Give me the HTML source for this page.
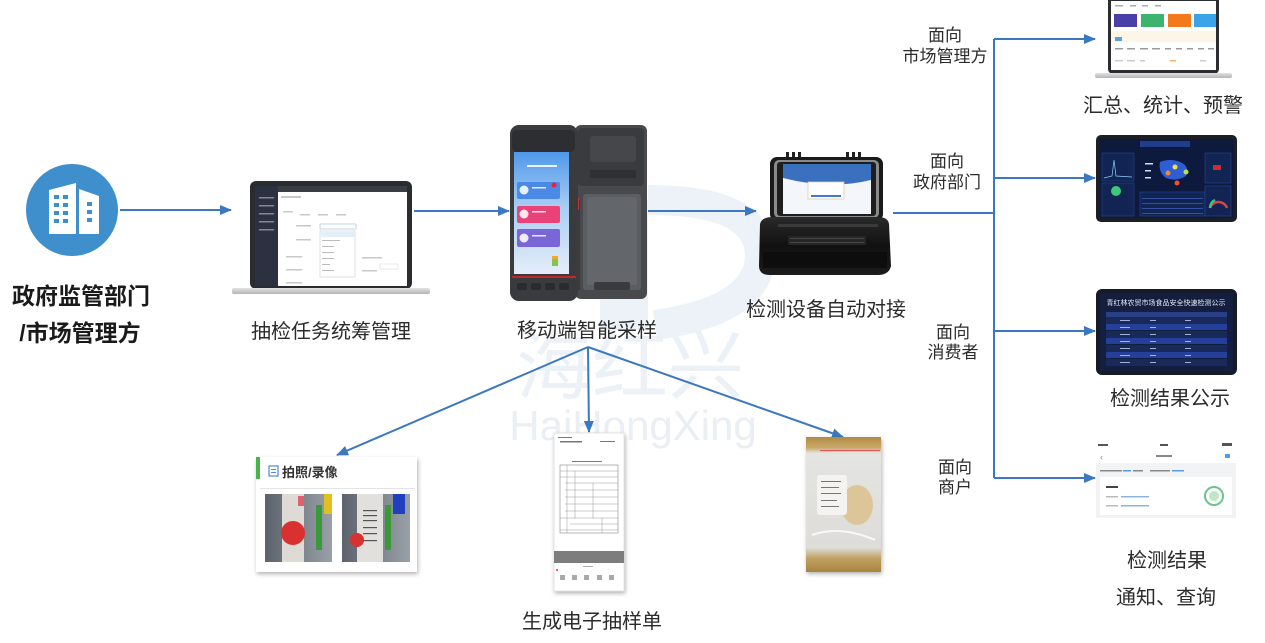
<!DOCTYPE html>
<html><head><meta charset="utf-8">
<style>
html,body{margin:0;padding:0;background:#fff;}
body{width:1265px;height:643px;overflow:hidden;position:relative;}
svg{position:absolute;left:0;top:0;}
text{font-family:"Liberation Sans","Noto Sans CJK SC",sans-serif;}
</style></head><body>
<svg width="1265" height="643" viewBox="0 0 1265 643" xmlns="http://www.w3.org/2000/svg">
<defs>
<marker id="ah" markerWidth="12" markerHeight="10" refX="11" refY="5" orient="auto" markerUnits="userSpaceOnUse"><path d="M0,0 L12,5 L0,10 z" fill="#3b78bf"/></marker>
<linearGradient id="scr" x1="0" y1="0" x2="0" y2="1"><stop offset="0" stop-color="#4f98ea"/><stop offset="0.45" stop-color="#a9cdf3"/><stop offset="1" stop-color="#e4eef9"/></linearGradient>
<linearGradient id="base" x1="0" y1="0" x2="0" y2="1"><stop offset="0" stop-color="#e2e2e2"/><stop offset="1" stop-color="#b5b5b5"/></linearGradient>
<linearGradient id="case" x1="0" y1="0" x2="0" y2="1"><stop offset="0" stop-color="#2a2a2a"/><stop offset="0.5" stop-color="#111"/><stop offset="1" stop-color="#1c1c1c"/></linearGradient>
<linearGradient id="bag" x1="0" y1="0" x2="0" y2="1"><stop offset="0" stop-color="#b08a45"/><stop offset="0.08" stop-color="#c9a968"/><stop offset="0.12" stop-color="#e4e4e2"/><stop offset="0.82" stop-color="#dddcd8"/><stop offset="0.9" stop-color="#c0a060"/><stop offset="1" stop-color="#a88440"/></linearGradient>
<linearGradient id="photo" x1="0" y1="0" x2="1" y2="0"><stop offset="0" stop-color="#5d636c"/><stop offset="1" stop-color="#9aa0a8"/></linearGradient>
<filter id="sh" x="-10%" y="-10%" width="130%" height="130%"><feDropShadow dx="1" dy="2" stdDeviation="2" flood-color="#000" flood-opacity="0.3"/></filter>
</defs>

<!-- watermark -->
<g>
<rect x="600" y="200" width="48" height="130" fill="#edf2f8"/>
<path d="M648,200 Q760,200 760,255 Q760,310 655,325" fill="none" stroke="#edf2f8" stroke-width="30"/>
<text x="630" y="393" font-size="76" fill="#ecf1f7" text-anchor="middle">海红兴</text>
<text x="633" y="440" font-size="42" fill="#e9eff5" text-anchor="middle">HaiHongXing</text>
</g>

<!-- building icon -->
<circle cx="72" cy="210" r="46" fill="#3e8fcc"/>
<path d="M49,190 L76,183 L76,234 L49,234 z" fill="#fff"/>
<path d="M79,189 L99,196 L99,234 L79,234 z" fill="#fff"/>
<g fill="#3e8fcc">
<rect x="54" y="195" width="5" height="4"/><rect x="63" y="195" width="5" height="4"/>
<rect x="54" y="203" width="5" height="4"/><rect x="63" y="203" width="5" height="4"/>
<rect x="54" y="211" width="5" height="4"/><rect x="63" y="211" width="5" height="4"/>
<rect x="54" y="219" width="5" height="4"/><rect x="63" y="219" width="5" height="4"/>
<rect x="87" y="202" width="5" height="4"/><rect x="87" y="210" width="5" height="4"/><rect x="87" y="218" width="5" height="4"/>
</g>
<text x="81" y="304" font-size="23" font-weight="bold" fill="#1a1a1a" text-anchor="middle">政府监管部门</text>
<text x="80" y="341" font-size="23" font-weight="bold" fill="#1a1a1a" text-anchor="middle">/市场管理方</text>

<!-- laptop 1 -->
<rect x="250" y="181" width="162" height="108" rx="6" fill="#2b2c2f"/>
<rect x="255" y="186" width="152" height="100" fill="#fff"/>
<rect x="255" y="186" width="152" height="6" fill="#3a3d44"/>
<rect x="255" y="186" width="23" height="100" fill="#2b3140"/>
<g fill="#c8c8c8">
<rect x="281" y="196" width="20" height="2"/><rect x="283" y="211" width="10" height="1.5"/>
<rect x="300" y="214" width="10" height="1.5"/><rect x="318" y="214" width="10" height="1.5"/><rect x="336" y="214" width="10" height="1.5"/>
<rect x="296" y="225" width="15" height="1.5"/><rect x="296" y="239" width="15" height="1.5"/>
<rect x="286" y="256" width="16" height="1.5"/><rect x="286" y="269" width="16" height="1.5"/><rect x="286" y="282" width="16" height="1.5"/>
<rect x="362" y="257" width="20" height="1.5"/><rect x="362" y="270" width="15" height="1.5"/>
</g>
<g fill="#7f8896"><rect x="259" y="197" width="15" height="1.5"/><rect x="259" y="205" width="15" height="1.5"/><rect x="259" y="213" width="15" height="1.5"/><rect x="259" y="221" width="15" height="1.5"/><rect x="259" y="229" width="15" height="1.5"/></g>
<rect x="320" y="224" width="36" height="5" fill="#fff" stroke="#9bb8de" stroke-width="0.6"/>
<rect x="320" y="231" width="35" height="46" fill="#fff" stroke="#cfcfcf" stroke-width="0.6"/>
<rect x="320" y="232" width="35" height="5" fill="#e4eefa"/>
<g fill="#bbb"><rect x="322" y="240" width="18" height="1"/><rect x="322" y="246" width="12" height="1"/><rect x="322" y="252" width="12" height="1"/><rect x="322" y="258" width="12" height="1"/><rect x="322" y="264" width="8" height="1"/><rect x="322" y="270" width="12" height="1"/></g>
<rect x="380" y="264" width="18" height="5" fill="#fff" stroke="#ddd" stroke-width="0.6"/>
<rect x="232" y="288" width="198" height="6" rx="2" fill="url(#base)"/>
<text x="331" y="338" font-size="20" fill="#2b2b2b" text-anchor="middle">抽检任务统筹管理</text>

<!-- POS device -->
<rect x="575" y="125" width="72" height="174" rx="6" fill="#47494d"/>
<rect x="578" y="128" width="66" height="58" rx="4" fill="#3a3b3e"/>
<rect x="590" y="136" width="46" height="26" rx="3" fill="#45474a"/>
<rect x="590" y="170" width="46" height="8" fill="#2f3033"/>
<rect x="583" y="194" width="58" height="96" rx="3" fill="#5a5d62"/>
<rect x="587" y="197" width="50" height="88" rx="2" fill="#63666b"/>
<rect x="594" y="282" width="36" height="8" rx="2" fill="#3a3b3e"/>
<rect x="577" y="200" width="3" height="90" fill="#3a3b3e"/>
<rect x="576" y="198" width="3" height="12" fill="#c33"/>
<rect x="510" y="125" width="68" height="176" rx="9" fill="#3a3b3f"/>
<rect x="512" y="130" width="63" height="22" rx="5" fill="#2d2e31"/>
<rect x="514" y="152" width="55" height="122" fill="url(#scr)"/>
<rect x="527" y="165" width="30" height="2" fill="#eaf2ff"/>
<rect x="517" y="182" width="43" height="17" rx="2" fill="#4b89e6"/>
<rect x="517" y="206" width="43" height="17" rx="2" fill="#e94279"/>
<rect x="517" y="229" width="43" height="18" rx="2" fill="#7b66d8"/>
<circle cx="524" cy="190" r="4.5" fill="#e9f1ff"/><circle cx="524" cy="214" r="4.5" fill="#ffe6ef"/><circle cx="524" cy="238" r="4.5" fill="#eee9ff"/>
<circle cx="554" cy="185" r="2.5" fill="#e23"/>
<g fill="#fff" opacity="0.85"><rect x="532" y="187" width="14" height="1.5"/><rect x="532" y="211" width="14" height="1.5"/><rect x="532" y="235" width="14" height="1.5"/></g>
<rect x="552" y="256" width="6" height="10" fill="#8bc34a"/><rect x="552" y="256" width="6" height="3" fill="#f0a830"/>
<rect x="512" y="276" width="64" height="2" fill="#c02a2a"/>
<g fill="#2a2b2e"><rect x="517" y="283" width="10" height="7" rx="2"/><rect x="531" y="283" width="10" height="7" rx="2"/><rect x="545" y="283" width="10" height="7" rx="2"/><rect x="559" y="283" width="10" height="7" rx="2"/></g>
<text x="587" y="337" font-size="20" fill="#2b2b2b" text-anchor="middle">移动端智能采样</text>

<!-- rugged case -->
<rect x="786" y="152" width="3" height="6" fill="#222"/><rect x="792" y="152" width="3" height="6" fill="#222"/><rect x="798" y="152" width="3" height="6" fill="#222"/>
<rect x="846" y="152" width="3" height="6" fill="#222"/><rect x="852" y="152" width="3" height="6" fill="#222"/><rect x="858" y="152" width="3" height="6" fill="#222"/>
<rect x="770" y="157" width="113" height="64" rx="7" fill="#1a1a1a"/>
<rect x="774" y="160" width="105" height="58" rx="5" fill="#8a8a8a"/>
<rect x="777" y="162" width="99" height="54" rx="3" fill="#1e1e1e"/>
<rect x="783" y="164" width="88" height="50" fill="#f3f6fa"/>
<path d="M783,164 H871 V180 Q830,190 783,178 z" fill="#3a70bd"/>
<rect x="808" y="182" width="36" height="17" fill="#fff" stroke="#e3c9b0" stroke-width="0.8"/>
<rect x="811" y="195" width="30" height="2" fill="#3f7bd0"/>
<path d="M760,224 Q762,217 772,217 H878 Q888,217 889,224 L891,266 Q889,275 878,275 H770 Q759,275 759,266 z" fill="url(#case)"/>
<rect x="778" y="224" width="100" height="3" fill="#3a3a3a"/>
<rect x="788" y="236" width="78" height="9" fill="#262626"/>
<g fill="#474747"><rect x="790" y="238" width="74" height="1"/><rect x="790" y="242" width="74" height="1"/></g>
<rect x="763" y="252" width="124" height="16" fill="#0a0a0a" opacity="0.7"/>
<text x="826" y="316" font-size="20" fill="#2b2b2b" text-anchor="middle">检测设备自动对接</text>

<!-- connectors -->
<g stroke="#3b78bf" stroke-width="2" fill="none">
<path d="M120,210 H231" marker-end="url(#ah)"/>
<path d="M414,211 H509" marker-end="url(#ah)"/>
<path d="M648,211 H756" marker-end="url(#ah)"/>
<path d="M893,213 H994"/>
<path d="M994,39 V478"/>
<path d="M994,39 H1095" marker-end="url(#ah)"/>
<path d="M994,178 H1095" marker-end="url(#ah)"/>
<path d="M994,331 H1095" marker-end="url(#ah)"/>
<path d="M994,478 H1095" marker-end="url(#ah)"/>
<path d="M588,347 L337,455" marker-end="url(#ah)"/>
<path d="M588,347 L589,432" marker-end="url(#ah)"/>
<path d="M588,347 L843,437" marker-end="url(#ah)"/>
</g>

<!-- right labels -->
<g font-size="17" fill="#2b2b2b" text-anchor="middle">
<text x="945" y="41">面向</text><text x="945" y="62">市场管理方</text>
<text x="947" y="167">面向</text><text x="947" y="188">政府部门</text>
<text x="953" y="338">面向</text><text x="953" y="358">消费者</text>
<text x="955" y="473">面向</text><text x="955" y="493">商户</text>
</g>

<!-- top right laptop -->
<rect x="1108" y="-6" width="111" height="80" rx="5" fill="#2c2d31"/>
<rect x="1111" y="1" width="105" height="69" fill="#fff"/>
<rect x="1114" y="14" width="23" height="13" fill="#4a3fa8"/>
<rect x="1141" y="14" width="23" height="13" fill="#3db46d"/>
<rect x="1168" y="14" width="23" height="13" fill="#f27a1c"/>
<rect x="1194" y="14" width="22" height="13" fill="#3ba3ea"/>
<rect x="1111" y="31" width="105" height="11" fill="#fdf6e6"/>
<rect x="1115" y="37" width="7" height="4" fill="#5aa0d8"/>
<g fill="#999"><rect x="1115" y="48" width="8" height="1.5"/><rect x="1127" y="48" width="8" height="1.5"/><rect x="1140" y="48" width="8" height="1.5"/><rect x="1152" y="48" width="8" height="1.5"/><rect x="1165" y="48" width="6" height="1.5"/><rect x="1176" y="48" width="6" height="1.5"/><rect x="1187" y="48" width="6" height="1.5"/><rect x="1198" y="48" width="6" height="1.5"/><rect x="1208" y="48" width="6" height="1.5"/></g>
<g fill="#ccc"><rect x="1115" y="60" width="8" height="1.5"/><rect x="1127" y="60" width="8" height="1.5"/><rect x="1140" y="60" width="5" height="1.5"/><rect x="1170" y="60" width="6" height="1.5" fill="#f0b070"/><rect x="1200" y="60" width="6" height="1.5"/></g>
<g fill="#aaa"><rect x="1115" y="5" width="8" height="1.5"/><rect x="1130" y="5" width="6" height="1.5"/><rect x="1142" y="5" width="6" height="1.5"/><rect x="1155" y="5" width="6" height="1.5"/></g>
<rect x="1095" y="73" width="137" height="5" rx="2" fill="url(#base)"/>
<text x="1163" y="112" font-size="20" fill="#2b2b2b" text-anchor="middle">汇总、统计、预警</text>

<!-- dashboard tablet -->
<rect x="1096" y="135" width="141" height="87" rx="5" fill="#1b1e25"/>
<rect x="1100" y="139" width="133" height="79" fill="#0d1a3d"/>
<rect x="1140" y="141" width="50" height="6" fill="#1f3d8a"/>
<rect x="1102" y="153" width="32" height="28" fill="#112454" stroke="#2a4c9c" stroke-width="0.5"/>
<path d="M1104,178 L1112,176 L1114,160 L1116,176 L1132,177" stroke="#8fd0ff" stroke-width="0.7" fill="none"/>
<rect x="1102" y="183" width="32" height="33" fill="#112454" stroke="#2a4c9c" stroke-width="0.5"/>
<circle cx="1116" cy="191" r="5" fill="#3cc87a"/>
<path d="M1160,162 Q1170,158 1180,162 Q1190,166 1186,176 Q1176,182 1166,178 Q1158,172 1160,162z" fill="#2e5ed6"/>
<circle cx="1175" cy="167" r="2.5" fill="#f0e040"/><circle cx="1168" cy="173" r="2.5" fill="#f08a30"/><circle cx="1186" cy="172" r="2.5" fill="#c0e040"/><circle cx="1177" cy="183" r="2.5" fill="#f05030"/>
<rect x="1140" y="192" width="65" height="24" fill="#112454" stroke="#2a4c9c" stroke-width="0.5"/>
<g fill="#3a5cb0"><rect x="1142" y="198" width="61" height="0.8"/><rect x="1142" y="203" width="61" height="0.8"/><rect x="1142" y="208" width="61" height="0.8"/><rect x="1142" y="213" width="61" height="0.8"/></g>
<rect x="1205" y="153" width="26" height="30" fill="#112454" stroke="#2a4c9c" stroke-width="0.5"/>
<rect x="1213" y="165" width="8" height="5" fill="#c83030"/>
<rect x="1205" y="186" width="26" height="30" fill="#112454" stroke="#2a4c9c" stroke-width="0.5"/>
<path d="M1210,208 A9,9 0 0 1 1227,208" stroke="#e04040" stroke-width="2.5" fill="none"/>
<path d="M1210,208 A9,9 0 0 1 1215,200" stroke="#3cc87a" stroke-width="2.5" fill="none"/>
<g fill="#cfe0ff"><rect x="1145" y="163" width="8" height="1.5"/><rect x="1145" y="170" width="6" height="1.5"/><rect x="1145" y="177" width="6" height="1.5"/></g>

<!-- public tablet -->
<rect x="1096" y="289" width="141" height="86" rx="6" fill="#171b25"/>
<rect x="1100" y="293" width="133" height="78" fill="#141e3e"/>
<text x="1166" y="305" font-size="7" fill="#e8eefc" text-anchor="middle">青红林农贸市场食品安全快速检测公示</text>
<rect x="1106" y="312" width="121" height="5" fill="#2a3f85"/>
<g fill="#24409a"><rect x="1106" y="324" width="121" height="6"/><rect x="1106" y="338" width="121" height="6"/><rect x="1106" y="352" width="121" height="6"/></g>
<g fill="#19295a"><rect x="1106" y="317" width="121" height="7"/><rect x="1106" y="331" width="121" height="7"/><rect x="1106" y="345" width="121" height="7"/><rect x="1106" y="359" width="121" height="7"/></g>
<g fill="#c8d4f0" opacity="0.8"><rect x="1120" y="320" width="10" height="1"/><rect x="1150" y="320" width="6" height="1"/><rect x="1185" y="320" width="6" height="1"/><rect x="1120" y="327" width="10" height="1"/><rect x="1150" y="327" width="6" height="1"/><rect x="1185" y="327" width="6" height="1"/><rect x="1120" y="334" width="10" height="1"/><rect x="1150" y="334" width="6" height="1"/><rect x="1185" y="334" width="6" height="1"/><rect x="1120" y="341" width="10" height="1"/><rect x="1150" y="341" width="6" height="1"/><rect x="1185" y="341" width="6" height="1"/><rect x="1120" y="348" width="10" height="1"/><rect x="1150" y="348" width="6" height="1"/><rect x="1185" y="348" width="6" height="1"/><rect x="1120" y="355" width="10" height="1"/><rect x="1150" y="355" width="6" height="1"/><rect x="1185" y="355" width="6" height="1"/><rect x="1120" y="362" width="10" height="1"/><rect x="1150" y="362" width="6" height="1"/><rect x="1185" y="362" width="6" height="1"/></g>
<text x="1170" y="405" font-size="20" fill="#2b2b2b" text-anchor="middle">检测结果公示</text>

<!-- phone screenshot -->
<rect x="1096" y="440" width="140" height="78" fill="#fff"/>
<g fill="#555"><rect x="1098" y="444" width="10" height="2"/><rect x="1160" y="444" width="8" height="2"/><rect x="1222" y="443" width="10" height="3"/></g>
<text x="1100" y="460" font-size="9" fill="#888">‹</text>
<rect x="1156" y="455" width="16" height="2" fill="#888"/>
<rect x="1225" y="454" width="5" height="4" fill="#5a9ae0"/>
<rect x="1096" y="463" width="140" height="55" fill="#f2f3f5"/>
<rect x="1100" y="470" width="22" height="1.5" fill="#888"/><rect x="1123" y="470" width="8" height="1.5" fill="#5a9ae0"/><rect x="1133" y="470" width="10" height="1.5" fill="#888"/><rect x="1150" y="470" width="20" height="1.5" fill="#888"/><rect x="1172" y="470" width="12" height="1.5" fill="#5a9ae0"/>
<rect x="1100" y="477" width="132" height="38" fill="#fff"/>
<rect x="1106" y="486" width="12" height="2" fill="#444"/>
<rect x="1106" y="496" width="12" height="1.5" fill="#bbb"/><rect x="1121" y="496" width="28" height="1.5" fill="#8ab4e8"/>
<rect x="1106" y="505" width="12" height="1.5" fill="#bbb"/><rect x="1121" y="505" width="28" height="1.5" fill="#8ab4e8"/>
<circle cx="1214" cy="496" r="9" fill="none" stroke="#6cc48a" stroke-width="2"/>
<circle cx="1214" cy="496" r="5" fill="#bfe6c8"/>
<text x="1167" y="567" font-size="20" fill="#2b2b2b" text-anchor="middle">检测结果</text>
<text x="1166" y="604" font-size="20" fill="#2b2b2b" text-anchor="middle">通知、查询</text>

<!-- photo card -->
<rect x="256" y="457" width="161" height="115" fill="#fff" filter="url(#sh)"/>
<rect x="256" y="457" width="4" height="22" fill="#47b64a"/>
<rect x="269" y="466" width="9" height="10" fill="none" stroke="#4a8ad8" stroke-width="1.2"/>
<rect x="271" y="469" width="5" height="1" fill="#4a8ad8"/><rect x="271" y="472" width="5" height="1" fill="#4a8ad8"/>
<text x="282" y="477" font-size="13" font-weight="bold" fill="#333">拍照/录像</text>
<rect x="260" y="488" width="155" height="1" fill="#e4e4e4"/>
<rect x="265" y="494" width="67" height="68" fill="url(#photo)"/>
<rect x="282" y="494" width="22" height="68" fill="#dedad6"/>
<rect x="298" y="496" width="6" height="10" fill="#e06070"/>
<circle cx="293" cy="533" r="12" fill="#d93030"/>
<rect x="316" y="505" width="6" height="45" fill="#3a9a3a"/>
<rect x="324" y="494" width="8" height="20" fill="#e0c020"/>
<rect x="342" y="494" width="68" height="68" fill="url(#photo)"/>
<rect x="357" y="494" width="26" height="68" fill="#e2e0dc"/>
<rect x="385" y="505" width="6" height="45" fill="#3a9a3a"/>
<rect x="393" y="494" width="12" height="20" fill="#2040c0"/>
<circle cx="357" cy="540" r="7" fill="#d93030"/>
<g fill="#555"><rect x="363" y="510" width="14" height="1.2"/><rect x="363" y="515" width="14" height="1.2"/><rect x="363" y="520" width="14" height="1.2"/><rect x="363" y="527" width="14" height="1.2"/><rect x="363" y="533" width="14" height="1.2"/><rect x="363" y="540" width="14" height="1.2"/></g>

<!-- form doc -->
<rect x="554" y="433" width="70" height="158" fill="#fff" stroke="#e0e0e0" stroke-width="0.8" filter="url(#sh)"/>
<g fill="#777"><rect x="558" y="437" width="14" height="1"/><rect x="560" y="441" width="22" height="1.5"/><rect x="600" y="441" width="15" height="1"/><rect x="572" y="461" width="30" height="1"/></g>
<rect x="560" y="465" width="58" height="68" fill="none" stroke="#888" stroke-width="0.6"/>
<g stroke="#999" stroke-width="0.5"><path d="M560,471 H618 M560,477 H618 M565,483 H618 M565,490 H618 M565,497 H618 M565,504 H618 M565,511 H618 M560,518 H618 M570,524 H618 M560,530 H618"/><path d="M567,465 V533 M575,471 V518 M593,483 V518 M602,518 V533"/></g>
<rect x="554" y="551" width="70" height="12" fill="#7d7d7d"/>
<rect x="583" y="566" width="10" height="1" fill="#aaa"/>
<g fill="#aaa"><rect x="560" y="575" width="5" height="5"/><rect x="572" y="575" width="5" height="5"/><rect x="584" y="575" width="5" height="5"/><rect x="597" y="575" width="5" height="5"/><rect x="609" y="575" width="5" height="5"/></g>
<circle cx="557" cy="570" r="1" fill="#d33"/>
<text x="592" y="628" font-size="20" fill="#2b2b2b" text-anchor="middle">生成电子抽样单</text>

<!-- bag -->
<rect x="806" y="437" width="75" height="135" fill="url(#bag)" filter="url(#sh)"/>
<rect x="820" y="450" width="60" height="1" fill="#e05060"/>
<ellipse cx="857" cy="505" rx="16" ry="20" fill="#dcc699"/>
<rect x="817" y="475" width="30" height="40" rx="3" fill="#f4f3f0"/>
<g fill="#777"><rect x="821" y="481" width="20" height="1"/><rect x="821" y="487" width="18" height="1"/><rect x="821" y="493" width="20" height="1"/><rect x="821" y="500" width="16" height="1"/><rect x="821" y="506" width="18" height="1"/></g>
<path d="M812,535 Q840,525 875,540" stroke="#fff" stroke-width="2" fill="none" opacity="0.8"/>
</svg>
</body></html>
